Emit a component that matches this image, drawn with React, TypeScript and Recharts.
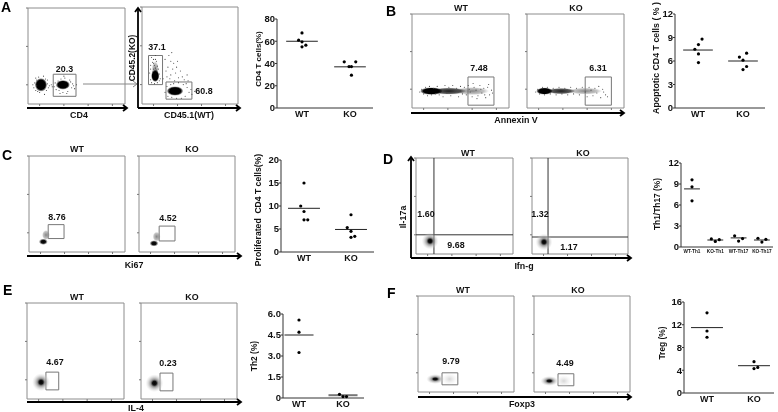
import React from 'react';
import { ScatterChart, Scatter, XAxis, YAxis, ReferenceArea, ReferenceLine } from 'recharts';

const FONT = '"Liberation Sans", Arial, sans-serif';

// ---------- strip plot values ----------
const twoCats = ['WT', 'KO'];
const fourCats = ['WT-Th1', 'KO-Th1', 'WT-Th17', 'KO-Th17'];

const aX = [1, 0.93, 1, 1.08, 1, 1.88, 2.12, 1.98, 2.03, 2.03];
const aY = [67.5, 61, 59.5, 56.5, 55, 41.5, 41.5, 37.2, 37.2, 29.5];
const aMeans = [60, 37];
const aTicks = [0, 20, 40, 60, 80];

const bX = [1.09, 1.01, 0.93, 1.01, 1.01, 1.92, 2.08, 2, 2.08, 2];
const bY = [8.8, 8.1, 7.5, 6.9, 5.8, 6.5, 7, 6.1, 5.3, 4.9];
const bMeans = [7.4, 6];
const bTicks = [0, 3, 6, 9, 12];

const cX = [1, 0.93, 1, 1, 1.08, 2, 1.92, 2, 2, 2.08];
const cY = [15, 10, 8.8, 7, 7, 8.1, 5.3, 4.5, 3.2, 3.4];
const cMeans = [9.5, 4.9];
const cTicks = [0, 5, 10, 15, 20];

const dX = [1, 1, 1, 1.83, 2, 2.17, 2.83, 3, 3.17, 3.83, 4, 4.17];
const dY = [9.6, 8.6, 6.6, 1.15, 0.8, 1.05, 1.6, 0.85, 1.2, 1.25, 0.7, 1.1];
const dMeans = [8.3, 1, 1.3, 1];
const dTicks = [0, 3, 6, 9, 12];

const eX = [1, 1, 1, 1.92, 2, 2.08];
const eY = [5.57, 4.7, 3.25, 0.26, 0.1, 0.1];
const eMeans = [4.5, 0.2];
const eTicks = [0, 1.5, 3, 4.5, 6];
const eTickLabels = ['0', '1.5', '3.0', '4.5', '6.0'];

const fX = [1, 1, 1, 2, 2, 2.08];
const fY = [14.1, 10.9, 9.8, 5.5, 4.3, 4.5];
const fMeans = [11.5, 4.8];
const fTicks = [0, 4, 8, 12, 16];

// ---------- flow cytometry: gate percentages ----------
const gateValuesA = ['20.3', '37.1', '60.8'];
const gateValuesB = ['7.48', '6.31'];
const gateValuesC = ['8.76', '4.52'];
const gateValuesD = ['1.60', '9.68', '1.32', '1.17'];
const gateValuesE = ['4.67', '0.23'];
const gateValuesF = ['9.79', '4.49'];

// ---------- flow cytometry: populations (percent of the plot) ----------
type Pop = { x: number; y: number; sx: number; sy: number; k: string };
const pop = (x: number, y: number, sx: number, sy: number, k: string): Pop => ({ x, y, sx, sy, k });

const popsA1 = [pop(13.4, 20, 6, 6.5, 'dense'), pop(36, 20, 6.8, 4.6, 'dense')];
const popsA2 = [pop(13.8, 36, 3.5, 8, 'gray'), pop(13.8, 29, 4, 6, 'dense'), pop(34.4, 13.4, 8, 4.6, 'dense')];
const popsB1 = [pop(62, 18, 17, 4, 'gray'), pop(38, 18, 17, 3.4, 'mid'), pop(20, 18, 11, 3.6, 'dense')];
const popsB2 = [pop(60, 18, 17, 3.4, 'gray'), pop(35, 18, 14, 3, 'mid'), pop(18, 18, 8, 3.4, 'dense')];
const popsC1 = [pop(17.7, 17.7, 4, 5, 'gray'), pop(14.9, 10.7, 4.5, 3.2, 'smudge')];
const popsC2 = [pop(18.4, 16, 4, 5, 'gray'), pop(15.6, 9, 4.5, 3.2, 'smudge')];
const popsD1 = [pop(14.5, 13.5, 8.5, 8.5, 'core')];
const popsD2 = [pop(12.5, 12.5, 8.5, 8.5, 'core')];
const popsE1 = [pop(14.5, 17.5, 9, 9, 'core')];
const popsE2 = [pop(14, 16.5, 9, 9, 'core')];
const popsF1 = [pop(33, 13.5, 8, 6, 'faint'), pop(18, 13.5, 9, 5, 'core')];
const popsF2 = [pop(31, 11.5, 8, 6, 'faint'), pop(16, 11.5, 9, 5, 'core')];

const dotsA1 = [[6,17],[7,22],[8,14],[9,25],[9,19],[10,13],[11,28],[12,12],[18,26],[19,14],[20,21],[21,17],[17,10],[16,29],[22,19],[24,20],[25,18],[8,27],[5,20],[20,25],[27,18],[28,22],[29,15],[31,24],[32,14],[34,26],[36,12],[38,27],[41,13],[43,25],[45,17],[46,21],[47,19],[30,19],[44,23],[40,11],[37,29],[50,20],[48,16],[33,11]];
const dotsA2 = [[10,48],[12,46],[14,50],[11,43],[15,44],[9,40],[13,40],[16,39],[17,36],[9,36],[8,32],[18,31],[19,26],[9,25],[10,22],[13,21],[16,22],[18,24],[14,37],[12,36],[11,33],[15,35],[14,46],[12,42],[24,46],[28,50],[30,44],[33,42],[27,38],[32,36],[36,38],[25,34],[30,30],[35,32],[40,34],[38,27],[42,28],[29,26],[34,24],[44,25],[47,30],[26,28],[48,24],[22,26],[37,44],[31,53],[24,12],[26,18],[27,8],[28,14],[30,20],[31,7],[33,21],[36,6],[38,22],[41,6],[43,20],[45,8],[47,17],[49,12],[51,15],[52,10],[55,13],[46,21]];
const dotsB1 = [[8,17],[10,20],[12,15],[14,22],[16,13],[18,23],[20,14],[22,21],[24,15],[26,23],[28,14],[30,20],[32,12],[34,24],[36,16],[38,22],[40,13],[42,24],[44,17],[46,21],[48,12],[50,23],[52,15],[54,22],[56,14],[58,24],[60,17],[62,12],[64,22],[66,19],[68,13],[70,24],[72,16],[74,21],[76,11],[78,22],[80,14],[82,19],[83,16],[79,25],[75,14],[71,20],[67,10],[63,26],[59,20]];
const dotsB2 = [[9,17],[11,20],[13,15],[16,22],[18,14],[21,22],[24,15],[27,21],[30,14],[33,22],[36,15],[39,21],[42,14],[45,22],[48,15],[51,21],[54,14],[57,22],[60,17],[62,12],[64,22],[66,19],[68,13],[70,21],[72,16],[74,23],[76,11],[78,20],[81,14],[83,12],[79,17]];

// ---------- small helpers (layout and drawing) ----------
const shapeFor = (p: any) => {
  const d = p.payload || {};
  if (d.k) {
    return <ellipse cx={p.cx} cy={p.cy} rx={d.sx} ry={d.sy} fill={`url(#g-${d.k})`} />;
  }
  return <circle cx={p.cx} cy={p.cy} r={0.55} fill="#444" />;
};

const dotShape = (p: any) => <circle cx={p.cx} cy={p.cy} r={1.6} fill="#000" />;
const noTick = () => <g />;

const toPts = (xs: number[], ys: number[]) => xs.map((x, i) => ({ x, y: ys[i] }));
const toDots = (a: number[][]) => a.map(([x, y]) => ({ x, y }));

function Strip({ left, top, right, bottom, centers, cats, xs, ys, means, half, ticks, tickLabels, catSize = 9, thick = -1 }: any) {
  const yw = 24;
  const xh = 20;
  const w = right - left;
  const h = bottom - top;
  const sp = centers[1] - centers[0];
  const lo = 1 - (centers[0] - left) / sp;
  const hi = lo + w / sp;
  const catTicks = cats.map((_: string, i: number) => i + 1);
  return (
    <div style={{ position: 'absolute', left: left - yw, top: top - 6 }}>
      <ScatterChart width={yw + w + 5} height={6 + h + xh} margin={{ top: 6, right: 5, bottom: 0, left: 0 }}>
        <XAxis type="number" dataKey="x" domain={[lo, hi]} allowDataOverflow ticks={catTicks} interval={0} height={xh} stroke="#333"
          tickLine={false} tickSize={0} tickMargin={3} tick={{ fontFamily: FONT, fontWeight: 700, fontSize: catSize, fill: '#111' }}
          tickFormatter={(v: number) => cats[v - 1]} />
        <YAxis type="number" dataKey="y" domain={[ticks[0], ticks[ticks.length - 1]]} ticks={ticks} interval={0} width={yw} stroke="#333"
          tickSize={2} tickMargin={0} tick={{ fontFamily: FONT, fontWeight: 700, fontSize: 9.5, fill: '#111' }}
          tickFormatter={(v: number) => (tickLabels ? tickLabels[ticks.indexOf(v)] : String(v))} />
        {means.map((m: number, i: number) => (
          <ReferenceLine key={i} stroke={i === thick ? '#777' : '#222'} strokeWidth={i === thick ? 2 : 1}
            segment={[{ x: i + 1 - half, y: m }, { x: i + 1 + half, y: m }]} />
        ))}
        <Scatter data={toPts(xs, ys)} shape={dotShape} isAnimationActive={false} />
      </ScatterChart>
    </div>
  );
}

function Flow({ left, top, right, bottom, gates = [], pops = [], dots = [], vx, hy }: any) {
  const pad = 4;
  const w = right - left;
  const h = bottom - top;
  return (
    <div style={{ position: 'absolute', left: left - pad, top: top - 2 }}>
      <ScatterChart width={w + pad + 2} height={h + 2 + pad} margin={{ top: 2, right: 2, bottom: 0, left: 0 }}>
        <XAxis type="number" dataKey="x" domain={[0, 100]} ticks={[12, 37, 62, 87]} height={pad} axisLine={false} tick={noTick} tickSize={2} stroke="#777" />
        <YAxis type="number" dataKey="y" domain={[0, 100]} ticks={[0, 20, 40, 60, 80, 100]} width={pad} axisLine={false} tick={noTick} tickSize={2} stroke="#777" />
        <Scatter data={pops} shape={shapeFor} isAnimationActive={false} />
        <Scatter data={toDots(dots)} shape={shapeFor} isAnimationActive={false} />
        <ReferenceArea x1={0} x2={100} y1={0} y2={100} fill="none" stroke="#8c8c8c" strokeWidth={1} fillOpacity={0} />
        {gates.map((g: number[], i: number) => (
          <ReferenceArea key={i} x1={g[0]} x2={g[1]} y1={g[2]} y2={g[3]} fill="none" fillOpacity={0} stroke="#777" strokeWidth={1} />
        ))}
        {vx !== undefined && <ReferenceLine x={vx} stroke="#333" strokeWidth={1} />}
        {hy !== undefined && <ReferenceLine y={hy} stroke="#333" strokeWidth={1} />}
      </ScatterChart>
    </div>
  );
}

const T = ({ x, y, s = 8.9, rot, children }: any) => (
  <text x={x} y={y} textAnchor="middle" dominantBaseline="central" fontFamily={FONT} fontWeight={700} fontSize={s} fill="#111"
    style={{ whiteSpace: 'pre' }} transform={rot ? `rotate(${rot} ${x} ${y})` : undefined}>
    {children}
  </text>
);

const Letter = ({ x, y, children }: any) => (
  <text x={x} y={y} fontFamily={FONT} fontWeight={700} fontSize={14} fill="#000">{children}</text>
);

const HArrow = ({ x1, x2, y, c = '#000', w = 1.8 }: any) => (
  <g fill="none" stroke={c} strokeWidth={w}>
    <line x1={x1} y1={y} x2={x2 - 1} y2={y} />
    <polyline points={`${x2 - 4},${y - 3} ${x2},${y} ${x2 - 4},${y + 3}`} />
  </g>
);
const VArrow = ({ x, y1, y2 }: any) => (
  <g fill="none" stroke="#000" strokeWidth={1.8}>
    <line x1={x} y1={y1} x2={x} y2={y2 + 1} />
    <polyline points={`${x - 3},${y2 + 4} ${x},${y2} ${x + 3},${y2 + 4}`} />
  </g>
);

const Grad = ({ id, stops }: any) => (
  <radialGradient id={id}>
    {stops.map((s: any, i: number) => <stop key={i} offset={s[0]} stopColor={s[1]} stopOpacity={s[2]} />)}
  </radialGradient>
);

export default function App() {
  return (
    <div style={{ position: 'absolute', left: 0, top: 0, width: 778, height: 412, background: '#fff', overflow: 'hidden', filter: 'blur(0.3px)' }}>
      <svg width={0} height={0} style={{ position: 'absolute' }}>
        <defs>
          <Grad id="g-dense" stops={[[0, '#000', 1], [0.72, '#000', 1], [1, '#000', 0.25]]} />
          <Grad id="g-mid" stops={[[0, '#111', 0.95], [0.7, '#222', 0.75], [1, '#333', 0.1]]} />
          <Grad id="g-gray" stops={[[0, '#666', 0.8], [0.7, '#888', 0.5], [1, '#aaa', 0]]} />
          <Grad id="g-smudge" stops={[[0, '#000', 1], [0.5, '#111', 1], [1, '#555', 0]]} />
          <Grad id="g-core" stops={[[0, '#000', 1], [0.22, '#111', 1], [0.42, '#777', 0.75], [0.7, '#bbb', 0.5], [1, '#ddd', 0]]} />
          <Grad id="g-faint" stops={[[0, '#ccc', 0.8], [1, '#e8e8e8', 0]]} />
        </defs>
      </svg>

      {/* A */}
      <Flow left={28} top={8} right={125} bottom={104} pops={popsA1} dots={dotsA1} gates={[[26, 49.5, 8, 31]]} />
      <Flow left={142} top={7} right={238} bottom={104} pops={popsA2} dots={dotsA2} gates={[[6.8, 21.4, 20, 50], [25, 52, 5, 22.7]]} />
      <Strip left={277} top={19} right={373} bottom={108} centers={[302, 350]} cats={twoCats} xs={aX} ys={aY} means={aMeans} half={0.33} ticks={aTicks} />

      {/* B */}
      <Flow left={412} top={14} right={509} bottom={108} pops={popsB1} dots={dotsB1} gates={[[57.7, 84.5, 3, 33]]} />
      <Flow left={527} top={14} right={624} bottom={108} pops={popsB2} dots={dotsB2} gates={[[60, 87, 3, 33]]} />
      <Strip left={675} top={14} right={765} bottom={108} centers={[698, 743]} cats={twoCats} xs={bX} ys={bY} means={bMeans} half={0.33} ticks={bTicks} />

      {/* C */}
      <Flow left={29} top={156} right={125} bottom={252} pops={popsC1} gates={[[20, 36.5, 14, 28.5]]} />
      <Flow left={139} top={156} right={235} bottom={252} pops={popsC2} gates={[[21, 37.5, 11.5, 27]]} />
      <Strip left={281} top={160} right={374} bottom={252} centers={[304, 351]} cats={twoCats} xs={cX} ys={cY} means={cMeans} half={0.34} ticks={cTicks} />

      {/* D */}
      <Flow left={416} top={158} right={513} bottom={254} pops={popsD1} vx={18.5} hy={20} />
      <Flow left={532} top={158} right={628} bottom={254} pops={popsD2} vx={16.7} hy={17.7} />
      <Strip left={681} top={163} right={773} bottom={247} centers={[692, 715.3, 738.6, 762]} cats={fourCats} xs={dX} ys={dY} means={dMeans} half={0.34} ticks={dTicks} catSize={4.7} />

      {/* E */}
      <Flow left={27} top={303} right={124} bottom={399} pops={popsE1} gates={[[19.5, 32.7, 9.5, 28]]} />
      <Flow left={141} top={303} right={237} bottom={399} pops={popsE2} gates={[[19.8, 33.3, 8.5, 27]]} />
      <Strip left={283} top={314} right={364} bottom={398} centers={[299, 343]} cats={twoCats} xs={eX} ys={eY} means={eMeans} half={0.33} ticks={eTicks} tickLabels={eTickLabels} thick={1} />

      {/* F */}
      <Flow left={418} top={296} right={514} bottom={392} pops={popsF1} gates={[[25, 41.5, 7.5, 20]]} />
      <Flow left={534} top={296} right={630} bottom={392} pops={popsF2} gates={[[25, 41.5, 6.5, 19]]} />
      <Strip left={684} top={302} right={774} bottom={393} centers={[707, 754]} cats={twoCats} xs={fX} ys={fY} means={fMeans} half={0.34} ticks={fTicks} />

      {/* annotations */}
      <svg width={778} height={412} style={{ position: 'absolute', left: 0, top: 0, pointerEvents: 'none' }}>
        <Letter x={1} y={12}>A</Letter>
        <Letter x={386} y={16}>B</Letter>
        <Letter x={2} y={160}>C</Letter>
        <Letter x={383} y={164}>D</Letter>
        <Letter x={3} y={295}>E</Letter>
        <Letter x={387} y={298}>F</Letter>

        <HArrow x1={27} x2={127} y={108} />
        <T x={79} y={115}>CD4</T>
        <T x={64.5} y={69}>{gateValuesA[0]}</T>
        <HArrow x1={83} x2={137} y={84} c="#888" w={1} />
        <VArrow x={138} y1={108} y2={8} />
        <HArrow x1={138} x2={240} y={108} />
        <T x={132} y={58} s={8.4} rot={-90}>CD45.2(KO)</T>
        <T x={189} y={115}>CD45.1(WT)</T>
        <T x={157} y={47}>{gateValuesA[1]}</T>
        <T x={204} y={91}>{gateValuesA[2]}</T>
        <T x={258} y={59} s={8} rot={-90}>CD4 T cells(%)</T>

        <T x={461} y={8}>WT</T>
        <T x={576} y={8}>KO</T>
        <T x={479} y={68}>{gateValuesB[0]}</T>
        <T x={598} y={68}>{gateValuesB[1]}</T>
        <HArrow x1={411} x2={624} y={113} />
        <T x={516} y={120}>Annexin V</T>
        <T x={656} y={58} s={8.8} rot={-90}>Apoptotic CD4 T cells ( % )</T>

        <T x={77} y={149}>WT</T>
        <T x={192} y={149}>KO</T>
        <T x={57} y={217}>{gateValuesC[0]}</T>
        <T x={168} y={218}>{gateValuesC[1]}</T>
        <HArrow x1={27} x2={241} y={256} />
        <T x={134} y={265}>Ki67</T>
        <T x={258} y={210} s={8.6} rot={-90}>Proliferated  CD4 T cells(%)</T>

        <T x={468} y={153}>WT</T>
        <T x={583} y={153}>KO</T>
        <T x={426} y={214}>{gateValuesD[0]}</T>
        <T x={456} y={245}>{gateValuesD[1]}</T>
        <T x={540} y={214}>{gateValuesD[2]}</T>
        <T x={569} y={247}>{gateValuesD[3]}</T>
        <VArrow x={411} y1={258} y2={157} />
        <HArrow x1={411} x2={631} y={258} />
        <T x={403} y={217} rot={-90}>Il-17a</T>
        <T x={524} y={266}>Ifn-g</T>
        <T x={657} y={204} s={8.4} rot={-90}>Th1/Th17 (%)</T>

        <T x={77} y={297}>WT</T>
        <T x={192} y={297}>KO</T>
        <T x={55} y={362}>{gateValuesE[0]}</T>
        <T x={168} y={363}>{gateValuesE[1]}</T>
        <HArrow x1={27} x2={241} y={402} />
        <T x={136} y={408}>IL-4</T>
        <T x={254} y={356} s={8.4} rot={-90}>Th2 (%)</T>

        <T x={463} y={290}>WT</T>
        <T x={578} y={290}>KO</T>
        <T x={451} y={361}>{gateValuesF[0]}</T>
        <T x={565} y={363}>{gateValuesF[1]}</T>
        <HArrow x1={418} x2={631} y={397} />
        <T x={522} y={404}>Foxp3</T>
        <T x={662} y={343} s={8.4} rot={-90}>Treg (%)</T>
      </svg>
    </div>
  );
}
